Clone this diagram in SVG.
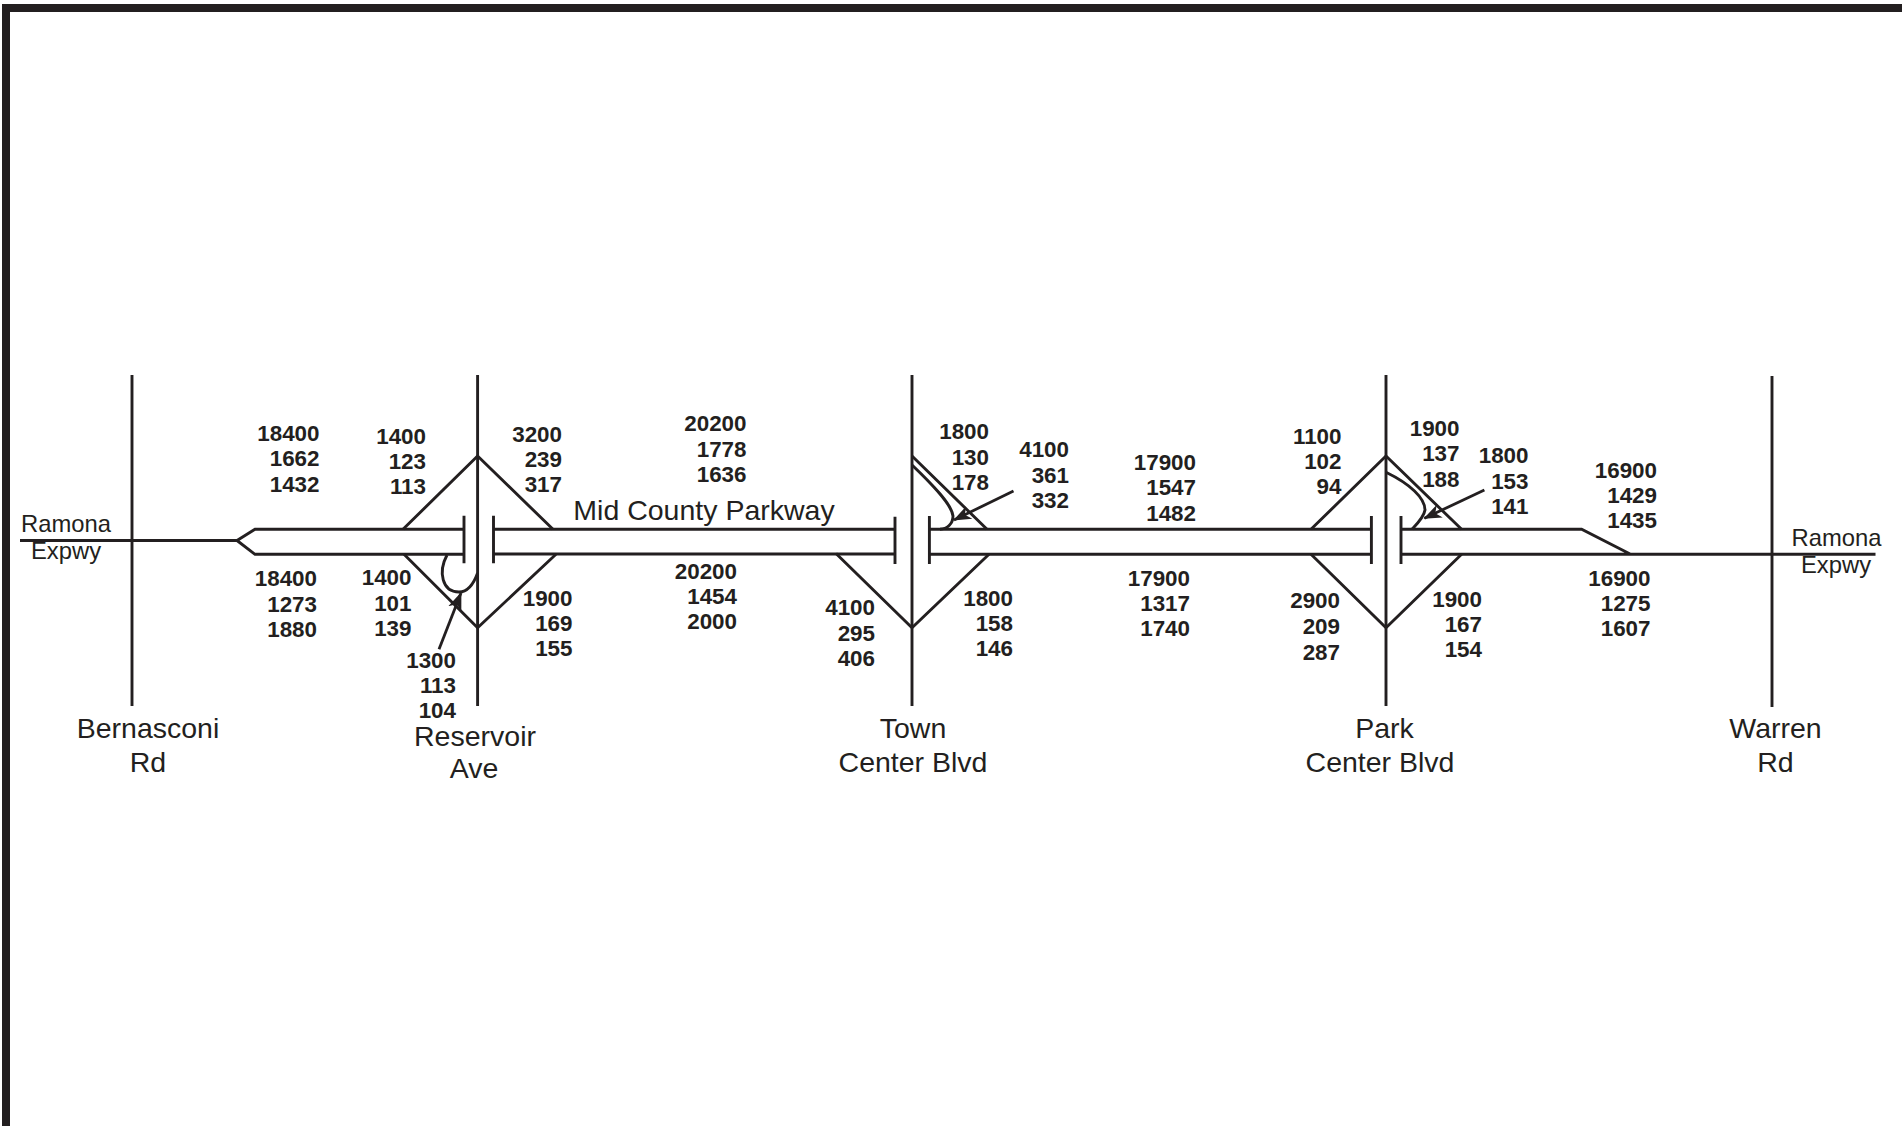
<svg xmlns="http://www.w3.org/2000/svg" width="1902" height="1126" viewBox="0 0 1902 1126">
<style>
.l{fill:none;stroke:#231f20;stroke-width:2.9}
.a{fill:none;stroke:#231f20;stroke-width:2.8;marker-end:url(#ah)}
.n{font:bold 22.4px "Liberation Sans",Arial,sans-serif;fill:#231f20;text-anchor:end}
.t{font:28.5px "Liberation Sans",Arial,sans-serif;fill:#231f20;text-anchor:middle}
.s{font:23.8px "Liberation Sans",Arial,sans-serif;fill:#231f20;text-anchor:middle}
</style>
<defs>
<marker id="ah" markerUnits="userSpaceOnUse" markerWidth="20" markerHeight="16" refX="17" refY="8" orient="auto"><path d="M0 1L18 8L0 15L5 8Z" fill="#231f20"/></marker>
</defs>
<rect width="1902" height="1126" fill="#fff"/>
<g id="frame"><path d="M2 1126V4H1902V12H10V1126Z" fill="#231f20"/></g>
<g id="connectors">
<path class="l" d="M132 375V706M477.6 375V706M912 375V706M1386 375V706M1772 376V707"/>
<path class="l" d="M20 540.5H237L255 529.3H464M237 540.5L255 554.3H464M464 515.7V563.3M493.5 515.7V563.3"/>
<path class="l" d="M493.5 529.3H895M493.5 554H895M895 516.7V564M929.4 516V564"/>
<path class="l" d="M929.4 529.3H1371.4M929.4 554.3H1371.4M1371.4 516V564M1401 516V564"/>
<path class="l" d="M1401 529.3H1581.6L1630.6 554.3M1401 554.3H1875.5"/>
<path class="l" d="M403 529.3L477.6 456L553 529.3M404 554.3L477.6 627.7L556 554.3"/>
<path class="l" d="M912 456L987 529.3M836 553.5L912 627.7L989 554.3"/>
<path class="l" d="M1311 529.3L1386 456L1461.6 529.3M1311 554.3L1386 627.7L1461.6 554.3"/>
<path class="l" d="M447 555C438 572 442 592 459 592C468 592 474 583 477.6 573"/>
<path class="l" d="M912 465C934 486 952 505 953 516C953 524 947 529 940 529.3"/>
<path class="l" d="M1386 472.3C1410 484 1425 498 1425 510C1424 517 1417 524 1412 529.3"/>
<path class="a" d="M439 649.3L461 593"/>
<path class="a" d="M1013.5 491L954 520"/>
<path class="a" d="M1484.4 490L1424.4 518.3"/>
</g>
<g id="ramona-west"><text class="s" x="66" y="531.5">Ramona</text><text class="s" x="66" y="558.5">Expwy</text></g>
<g id="ramona-east"><text class="s" x="1836.5" y="545.5">Ramona</text><text class="s" x="1836" y="572.5">Expwy</text></g>
<g id="mid-county-parkway"><text class="t" x="704" y="520">Mid County Parkway</text></g>
<g id="bernasconi"><text class="t" x="148" y="738">Bernasconi</text><text class="t" x="148" y="771.5">Rd</text></g>
<g id="reservoir"><text class="t" x="475" y="746">Reservoir</text><text class="t" x="474" y="778">Ave</text></g>
<g id="town-center"><text class="t" x="913" y="738">Town</text><text class="t" x="913" y="771.5">Center Blvd</text></g>
<g id="park-center"><text class="t" x="1384.5" y="738">Park</text><text class="t" x="1380" y="771.5">Center Blvd</text></g>
<g id="warren"><text class="t" x="1775.5" y="738">Warren</text><text class="t" x="1775.5" y="771.5">Rd</text></g>
<g id="volumes">
<g id="v1"><text class="n" x="319.5" y="441">18400</text><text class="n" x="319.5" y="466">1662</text><text class="n" x="319.5" y="491.5">1432</text></g>
<g id="v2"><text class="n" x="426" y="444">1400</text><text class="n" x="426" y="469">123</text><text class="n" x="426" y="494">113</text></g>
<g id="v3"><text class="n" x="562" y="442">3200</text><text class="n" x="562" y="467">239</text><text class="n" x="562" y="492">317</text></g>
<g id="v4"><text class="n" x="317" y="586">18400</text><text class="n" x="317" y="612">1273</text><text class="n" x="317" y="637">1880</text></g>
<g id="v5"><text class="n" x="411.5" y="585">1400</text><text class="n" x="411.5" y="611">101</text><text class="n" x="411.5" y="636">139</text></g>
<g id="v6"><text class="n" x="572.5" y="606">1900</text><text class="n" x="572.5" y="631">169</text><text class="n" x="572.5" y="656">155</text></g>
<g id="v7"><text class="n" x="456" y="668">1300</text><text class="n" x="456" y="693">113</text><text class="n" x="456" y="718">104</text></g>
<g id="v8"><text class="n" x="746.5" y="431">20200</text><text class="n" x="746.5" y="457">1778</text><text class="n" x="746.5" y="482">1636</text></g>
<g id="v9"><text class="n" x="737" y="579">20200</text><text class="n" x="737" y="604">1454</text><text class="n" x="737" y="629">2000</text></g>
<g id="v10"><text class="n" x="989" y="439">1800</text><text class="n" x="989" y="465">130</text><text class="n" x="989" y="490">178</text></g>
<g id="v11"><text class="n" x="1069" y="457">4100</text><text class="n" x="1069" y="483">361</text><text class="n" x="1069" y="508">332</text></g>
<g id="v12"><text class="n" x="1196" y="470">17900</text><text class="n" x="1196" y="495">1547</text><text class="n" x="1196" y="521">1482</text></g>
<g id="v13"><text class="n" x="1190" y="586">17900</text><text class="n" x="1190" y="611">1317</text><text class="n" x="1190" y="636">1740</text></g>
<g id="v14"><text class="n" x="875" y="615">4100</text><text class="n" x="875" y="641">295</text><text class="n" x="875" y="666">406</text></g>
<g id="v15"><text class="n" x="1013" y="606">1800</text><text class="n" x="1013" y="631">158</text><text class="n" x="1013" y="656">146</text></g>
<g id="v16"><text class="n" x="1341.5" y="444">1100</text><text class="n" x="1341.5" y="469">102</text><text class="n" x="1341.5" y="494">94</text></g>
<g id="v17"><text class="n" x="1459.5" y="436">1900</text><text class="n" x="1459.5" y="461">137</text><text class="n" x="1459.5" y="487">188</text></g>
<g id="v18"><text class="n" x="1528.5" y="463">1800</text><text class="n" x="1528.5" y="489">153</text><text class="n" x="1528.5" y="514">141</text></g>
<g id="v19"><text class="n" x="1657" y="478">16900</text><text class="n" x="1657" y="503">1429</text><text class="n" x="1657" y="528">1435</text></g>
<g id="v20"><text class="n" x="1650.5" y="586">16900</text><text class="n" x="1650.5" y="611">1275</text><text class="n" x="1650.5" y="636">1607</text></g>
<g id="v21"><text class="n" x="1340" y="608">2900</text><text class="n" x="1340" y="634">209</text><text class="n" x="1340" y="660">287</text></g>
<g id="v22"><text class="n" x="1482" y="607">1900</text><text class="n" x="1482" y="632">167</text><text class="n" x="1482" y="657">154</text></g>
</g>
</svg>
